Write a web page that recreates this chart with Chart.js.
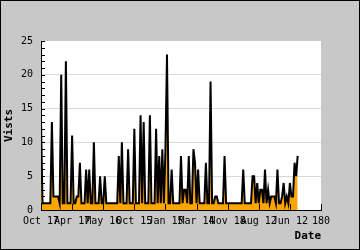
<!DOCTYPE html>
<html>
<head>
<meta charset="utf-8">
<script src="https://cdn.jsdelivr.net/npm/chart.js@4"></script>
<style>
  html, body { margin: 0; padding: 0; background: #c8c8c8; }
  #wrap { width: 360px; height: 250px; }
</style>
</head>
<body>
<div id="wrap"><canvas id="chart"></canvas></div>
<script>
// daily visits, one per day from the first date
const visits = [
  13, 1, 1, 1, 1, 1, 1, 13, 2, 2,
  2, 2, 1, 20, 1, 1, 22, 1, 1, 1,
  11, 1, 1, 2, 2, 7, 1, 1, 1, 6,
  1, 6, 1, 1, 10, 1, 1, 1, 5, 1,
  1, 5, 1, 1, 1, 1, 1, 1, 1, 1,
  8, 1, 10, 1, 1, 1, 9, 1, 1, 1,
  12, 1, 1, 1, 14, 1, 13, 1, 1, 1,
  14, 1, 1, 1, 12, 1, 8, 1, 9, 1,
  9, 23, 1, 1, 6, 1, 1, 1, 1, 1,
  8, 1, 3, 3, 1, 8, 1, 1, 9, 7,
  1, 6, 1, 1, 1, 1, 7, 1, 1, 19,
  1, 1, 2, 2, 1, 1, 1, 1, 8, 1,
  1, 1, 1, 1, 1, 1, 1, 1, 1, 1,
  6, 1, 1, 1, 1, 1, 5, 5, 1, 4,
  1, 3, 3, 1, 6, 1, 3, 1, 2, 2,
  2, 1, 6, 1, 1, 2, 4, 1, 2, 1,
  4, 2, 2, 7, 5, 8,
];

// tick labels at every 20 days
const xTickLabels = ["Oct 17", "Apr 17", "May 16", "Oct 15", "Jan 15",
  "Mar 14", "Nov 18", "Aug 12", "Jun 12", "180"];

const mono = "'DejaVu Sans Mono', monospace";

// grey frame, white plot area and the little inside ticks
const frame = {
  id: "frame",
  beforeDraw(chart) {
    const { ctx, chartArea: a, width, height } = chart;
    ctx.save();
    ctx.fillStyle = "#c8c8c8";
    ctx.fillRect(0, 0, width, height);
    ctx.strokeStyle = "#000";
    ctx.lineWidth = 1;
    ctx.strokeRect(0.5, 0.5, width - 1, height - 1);
    ctx.fillStyle = "#fff";
    ctx.fillRect(a.left, a.top, a.right - a.left, a.bottom - a.top);
    ctx.restore();
  },
  afterDraw(chart) {
    const { ctx, chartArea: a, scales } = chart;
    ctx.save();
    ctx.strokeStyle = "#000";
    ctx.lineWidth = 1;
    ctx.beginPath();
    for (let v = 0; v <= 25; v++) {
      const y = Math.round(scales.y.getPixelForValue(v)) + 0.5;
      ctx.moveTo(a.left, y);
      ctx.lineTo(a.left + 4, y);
    }
    for (let v = 0; v <= 180; v += 20) {
      const x = Math.round(scales.x.getPixelForValue(v)) + 0.5;
      ctx.moveTo(x, a.bottom);
      ctx.lineTo(x, a.bottom - 6);
    }
    ctx.stroke();
    ctx.restore();
  },
};

new Chart(document.getElementById("chart"), {
  type: "line",
  data: {
    datasets: [{
      label: "Vists",
      data: visits.map((v, i) => ({ x: i, y: v })),
      borderColor: "#000",
      borderWidth: 2,
      backgroundColor: "#ffa500",
      fill: "origin",
      pointRadius: 0,
      tension: 0,
    }],
  },
  options: {
    responsive: true,
    maintainAspectRatio: false,
    animation: false,
    layout: { padding: { top: 41, right: 39, left: 0, bottom: 0 } },
    plugins: { legend: { display: false }, tooltip: { enabled: false } },
    scales: {
      x: {
        type: "linear",
        min: 0,
        max: 180,
        afterFit: (s) => { s.height = 40; },
        grid: { display: false, drawTicks: false },
        border: { color: "#000", width: 1 },
        ticks: {
          stepSize: 20,
          autoSkip: false,
          maxRotation: 0,
          padding: 5,
          color: "#000",
          font: { family: mono, size: 10 },
          callback: (v, i) => xTickLabels[i],
        },
        title: {
          display: true,
          text: "Date",
          align: "end",
          color: "#000",
          font: { family: mono, size: 11, weight: "bold" },
          padding: { top: 0, bottom: 7 },
        },
      },
      y: {
        min: 0,
        max: 25,
        afterFit: (s) => { s.width = 41; },
        grid: {
          drawTicks: false,
          color: (c) => (c.tick && c.tick.value > 0 && c.tick.value < 25 ? "#d9d9d9" : "rgba(0,0,0,0)"),
        },
        border: { color: "#000", width: 1 },
        ticks: {
          stepSize: 5,
          padding: 8,
          color: "#000",
          font: { family: mono, size: 10 },
        },
        title: {
          display: true,
          text: "Vists",
          color: "#000",
          font: { family: mono, size: 11, weight: "bold" },
          padding: { top: 3, bottom: 0 },
        },
      },
    },
  },
  plugins: [frame],
});
</script>
</body>
</html>
